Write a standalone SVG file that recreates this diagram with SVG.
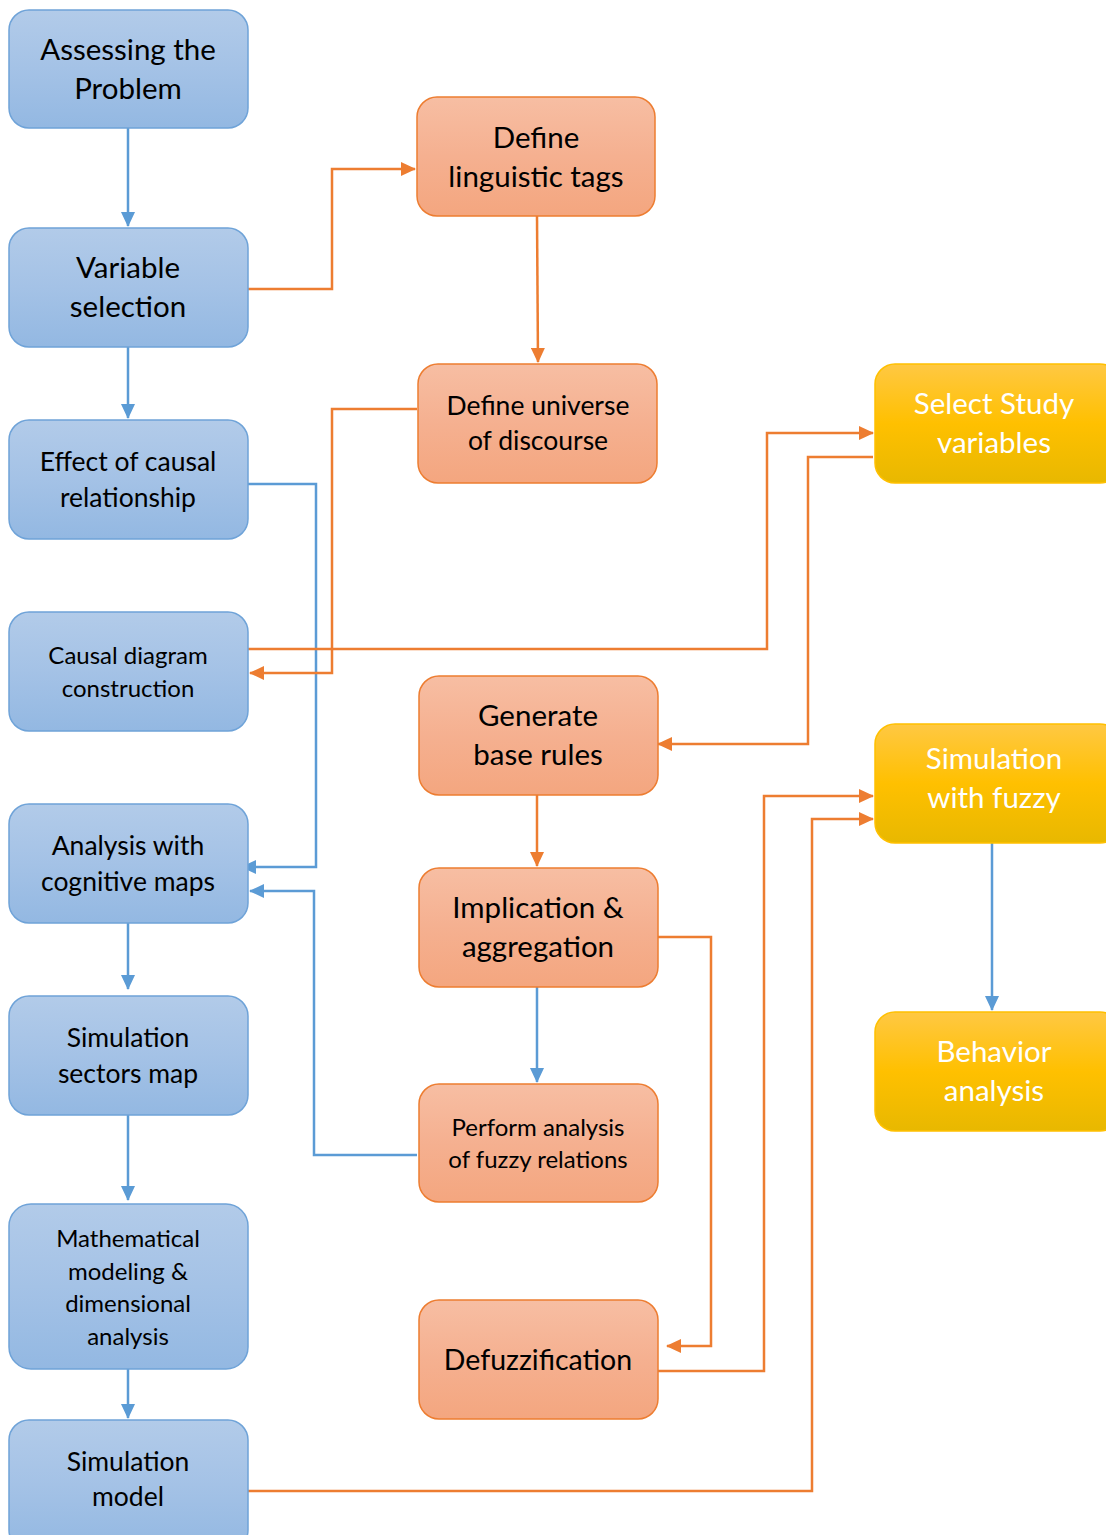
<svg xmlns="http://www.w3.org/2000/svg" width="1106" height="1535" viewBox="0 0 1106 1535">
<defs>
<linearGradient id="gb" x1="0" y1="0" x2="0" y2="1"><stop offset="0" stop-color="#b2cbe9"/><stop offset="0.5" stop-color="#a4c2e6"/><stop offset="1" stop-color="#93b8e2"/></linearGradient>
<linearGradient id="go" x1="0" y1="0" x2="0" y2="1"><stop offset="0" stop-color="#f7bea3"/><stop offset="0.5" stop-color="#f5b090"/><stop offset="1" stop-color="#f4a67f"/></linearGradient>
<linearGradient id="gy" x1="0" y1="0" x2="0" y2="1"><stop offset="0" stop-color="#ffc843"/><stop offset="0.5" stop-color="#ffc000"/><stop offset="1" stop-color="#e8b800"/></linearGradient>
<marker id="ab" markerUnits="userSpaceOnUse" markerWidth="16" markerHeight="14" refX="14" refY="7" orient="auto"><path d="M0,0 L15,7 L0,14 Z" fill="#5b9bd5"/></marker>
<marker id="ao" markerUnits="userSpaceOnUse" markerWidth="16" markerHeight="14" refX="14" refY="7" orient="auto"><path d="M0,0 L15,7 L0,14 Z" fill="#ed7d31"/></marker>
</defs>
<style>
.b{fill:url(#gb);stroke:#6fa3d8;stroke-width:1.5}
.o{fill:url(#go);stroke:#ed7d31;stroke-width:1.5}
.y{fill:url(#gy);stroke:#ffc000;stroke-width:1.5}
text{font-family:Lato,"Open Sans","Liberation Sans",sans-serif;text-anchor:middle;fill:#000}
.w{fill:#fff}
.lb{fill:none;stroke:#5b9bd5;stroke-width:2.5;marker-end:url(#ab)}
.lo{fill:none;stroke:#ed7d31;stroke-width:2.5;marker-end:url(#ao)}
</style>
<rect width="1106" height="1535" fill="#fff"/>
<g id="connectors">
<path class="lb" d="M128,128 V226"/>
<path class="lb" d="M128,347 V418"/>
<path class="lb" d="M248,484 H316 V867 H242"/>
<path class="lb" d="M417,1155 H314 V891 H250"/>
<path class="lb" d="M128,923 V989"/>
<path class="lb" d="M128,1105 V1200"/>
<path class="lb" d="M128,1362 V1418"/>
<path class="lb" d="M537,987 V1082"/>
<path class="lb" d="M992,843 V1010"/>
<path class="lo" d="M248,289 H332 V169 H415"/>
<path class="lo" d="M537,216 L538,362"/>
<path class="lo" d="M417,409 H332 V673 H250"/>
<path class="lo" d="M248,649 H767 V433 H873"/>
<path class="lo" d="M873,457 H808 V744 H658"/>
<path class="lo" d="M537,795 V866"/>
<path class="lo" d="M656,937 H711 V1346 H667"/>
<path class="lo" d="M656,1371 H764 V796 H873"/>
<path class="lo" d="M248,1491 H812 V819 H873"/>
</g>
<g id="n1"><rect class="b" x="9" y="10" width="239" height="118" rx="20"/><text x="128" y="60" font-size="29.5">Assessing the</text><text x="128" y="99" font-size="29.5">Problem</text></g>
<g id="n2"><rect class="b" x="9" y="228" width="239" height="119" rx="20"/><text x="128" y="278" font-size="29.5">Variable</text><text x="128" y="317" font-size="29.5">selection</text></g>
<g id="n3"><rect class="b" x="9" y="420" width="239" height="119" rx="20"/><text x="128" y="471" font-size="26.5">Effect of causal</text><text x="128" y="507" font-size="26.5">relationship</text></g>
<g id="n4"><rect class="b" x="9" y="612" width="239" height="119" rx="20"/><text x="128" y="664" font-size="24">Causal diagram</text><text x="128" y="697" font-size="24">construction</text></g>
<g id="n5"><rect class="b" x="9" y="804" width="239" height="119" rx="20"/><text x="128" y="855" font-size="26.5">Analysis with</text><text x="128" y="891" font-size="26.5">cognitive maps</text></g>
<g id="n6"><rect class="b" x="9" y="996" width="239" height="119" rx="20"/><text x="128" y="1047" font-size="26.5">Simulation</text><text x="128" y="1083" font-size="26.5">sectors map</text></g>
<g id="n7"><rect class="b" x="9" y="1204" width="239" height="165" rx="22"/><text x="128" y="1247" font-size="24">Mathematical</text><text x="128" y="1280" font-size="24">modeling &amp;</text><text x="128" y="1312" font-size="24">dimensional</text><text x="128" y="1345" font-size="24">analysis</text></g>
<g id="n8"><rect class="b" x="9" y="1420" width="239" height="130" rx="20"/><text x="128" y="1471" font-size="26.5">Simulation</text><text x="128" y="1506" font-size="26.5">model</text></g>
<g id="o1"><rect class="o" x="417" y="97" width="238" height="119" rx="20"/><text x="536" y="148" font-size="29.5">Define</text><text x="536" y="187" font-size="29.5">linguistic tags</text></g>
<g id="o2"><rect class="o" x="418" y="364" width="239" height="119" rx="20"/><text x="538" y="415" font-size="26.5">Define universe</text><text x="538" y="450" font-size="26.5">of discourse</text></g>
<g id="o3"><rect class="o" x="419" y="676" width="239" height="119" rx="20"/><text x="538" y="726" font-size="29.5">Generate</text><text x="538" y="765" font-size="29.5">base rules</text></g>
<g id="o4"><rect class="o" x="419" y="868" width="239" height="119" rx="20"/><text x="538" y="918" font-size="29.5">Implication &amp;</text><text x="538" y="957" font-size="29.5">aggregation</text></g>
<g id="o5"><rect class="o" x="419" y="1084" width="239" height="118" rx="20"/><text x="538" y="1136" font-size="24">Perform analysis</text><text x="538" y="1168" font-size="24">of fuzzy relations</text></g>
<g id="o6"><rect class="o" x="419" y="1300" width="239" height="119" rx="20"/><text x="538" y="1370" font-size="28.5">Defuzzification</text></g>
<g id="y1"><rect class="y" x="875" y="364" width="245" height="119" rx="20"/><text class="w" x="994" y="414" font-size="29.5">Select Study</text><text class="w" x="994" y="453" font-size="29.5">variables</text></g>
<g id="y2"><rect class="y" x="875" y="724" width="245" height="119" rx="20"/><text class="w" x="994" y="769" font-size="29.5">Simulation</text><text class="w" x="994" y="808" font-size="29.5">with fuzzy</text></g>
<g id="y3"><rect class="y" x="875" y="1012" width="245" height="119" rx="20"/><text class="w" x="994" y="1062" font-size="29.5">Behavior</text><text class="w" x="994" y="1101" font-size="29.5">analysis</text></g>
</svg>
